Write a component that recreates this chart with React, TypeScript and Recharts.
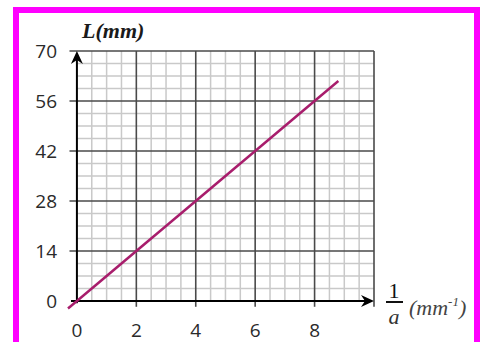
import { LineChart, Line, XAxis, YAxis, ReferenceLine } from 'recharts';

// values
const xLabels = [0, 2, 4, 6, 8];
const yLabels = [0, 14, 28, 42, 56, 70];
const xMajor = [2, 4, 6, 8, 10];
const xMinor = [0.5, 1, 1.5, 2.5, 3, 3.5, 4.5, 5, 5.5, 6.5, 7, 7.5, 8.5, 9, 9.5];
const yMajor = [14, 28, 42, 56, 70];
const yMinor = [3.5, 7, 10.5, 17.5, 21, 24.5, 31.5, 35, 38.5, 45.5, 49, 52.5, 59.5, 63, 66.5];
const points = [
  { inv: -0.3, L: -2.1 },
  { inv: 8.8, L: 61.6 },
];

const W = 485;
const H = 342;
const tickFont = { fontSize: 19, fill: '#2a2a2a', fontFamily: 'Open Sans, sans-serif' };

const arrowUp = (props: any) => {
  const { x1, y1, x2, y2 } = props;
  return (
    <g>
      <line x1={x1} y1={y1} x2={x2} y2={y2 + 4} stroke="#000" strokeWidth={2} />
      <path d={`M${x2},${y2} L${x2 - 6},${y2 + 13} L${x2},${y2 + 9} L${x2 + 6},${y2 + 13} Z`} fill="#000" />
    </g>
  );
};

const arrowRight = (props: any) => {
  const { x1, y1, x2, y2 } = props;
  return (
    <g>
      <line x1={x1} y1={y1} x2={x2 - 4} y2={y2} stroke="#000" strokeWidth={2} />
      <path d={`M${x2},${y2} L${x2 - 13},${y2 - 6} L${x2 - 9},${y2} L${x2 - 13},${y2 + 6} Z`} fill="#000" />
    </g>
  );
};

export default function App() {
  return (
    <div style={{ position: 'absolute', left: 0, top: 0, width: W, height: H, overflow: 'hidden', background: '#fff' }}>
      <div
        style={{
          position: 'absolute',
          left: 13,
          top: 7,
          width: 467,
          height: 400,
          boxSizing: 'border-box',
          border: '6px solid #ff00ff',
          borderBottom: 'none',
        }}
      />
      <div style={{ position: 'absolute', left: 0, top: 0 }}>
        <LineChart width={W} height={H} data={points} margin={{ top: 51, right: 111, bottom: 0, left: 0 }}>
          <XAxis
            dataKey="inv"
            type="number"
            domain={[-0.3, 10]}
            ticks={xLabels}
            interval={0}
            axisLine={false}
            tickLine={false}
            tickSize={6}
            tickMargin={8}
            height={32}
            tick={tickFont}
          />
          <YAxis
            dataKey="L"
            type="number"
            domain={[-2.5, 70]}
            ticks={yLabels}
            interval={0}
            axisLine={false}
            tickLine={false}
            tickSize={6}
            tickMargin={5}
            width={68}
            tick={tickFont}
          />
          {xMinor.map((v) => (
            <ReferenceLine key={`xm${v}`} segment={[{ x: v, y: 0 }, { x: v, y: 70 }]} stroke="#c9c9c9" strokeWidth={1.5} />
          ))}
          {yMinor.map((v) => (
            <ReferenceLine key={`ym${v}`} segment={[{ x: 0, y: v }, { x: 10, y: v }]} stroke="#c9c9c9" strokeWidth={1.5} />
          ))}
          {xMajor.map((v) => (
            <ReferenceLine key={`xM${v}`} segment={[{ x: v, y: -1.6 }, { x: v, y: 70 }]} stroke="#4a4a4a" strokeWidth={1.6} />
          ))}
          {yMajor.map((v) => (
            <ReferenceLine key={`yM${v}`} segment={[{ x: -0.25, y: v }, { x: 10, y: v }]} stroke="#4a4a4a" strokeWidth={1.6} />
          ))}
          <ReferenceLine segment={[{ x: 0, y: -0.6 }, { x: 0, y: 70 }]} shape={arrowUp} />
          <ReferenceLine segment={[{ x: -0.2, y: 0 }, { x: 10, y: 0 }]} shape={arrowRight} />
          <Line
            dataKey="L"
            stroke="#a81d6c"
            strokeWidth={2.5}
            dot={false}
            activeDot={false}
            isAnimationActive={false}
          />
          <text x={82} y={38} fontFamily="Liberation Serif, serif" fontWeight="bold" fontStyle="italic" fontSize={22} fill="#1a1a1a">
            L(mm)
          </text>
          <text x={394} y={298} textAnchor="middle" fontFamily="Liberation Serif, serif" fontSize={22} fill="#111">
            1
          </text>
          <line x1={386} y1={302} x2={403} y2={302} stroke="#111" strokeWidth={2} />
          <text x={394} y={324} textAnchor="middle" fontFamily="Liberation Serif, serif" fontStyle="italic" fontSize={22} fill="#333">
            a
          </text>
          <text x={409} y={315} fontFamily="Liberation Serif, serif" fontStyle="italic" fontSize={22} fill="#444">
            (mm
            <tspan fontSize={13} dy={-9}>-1</tspan>
            <tspan dy={9}>)</tspan>
          </text>
        </LineChart>
      </div>
    </div>
  );
}
